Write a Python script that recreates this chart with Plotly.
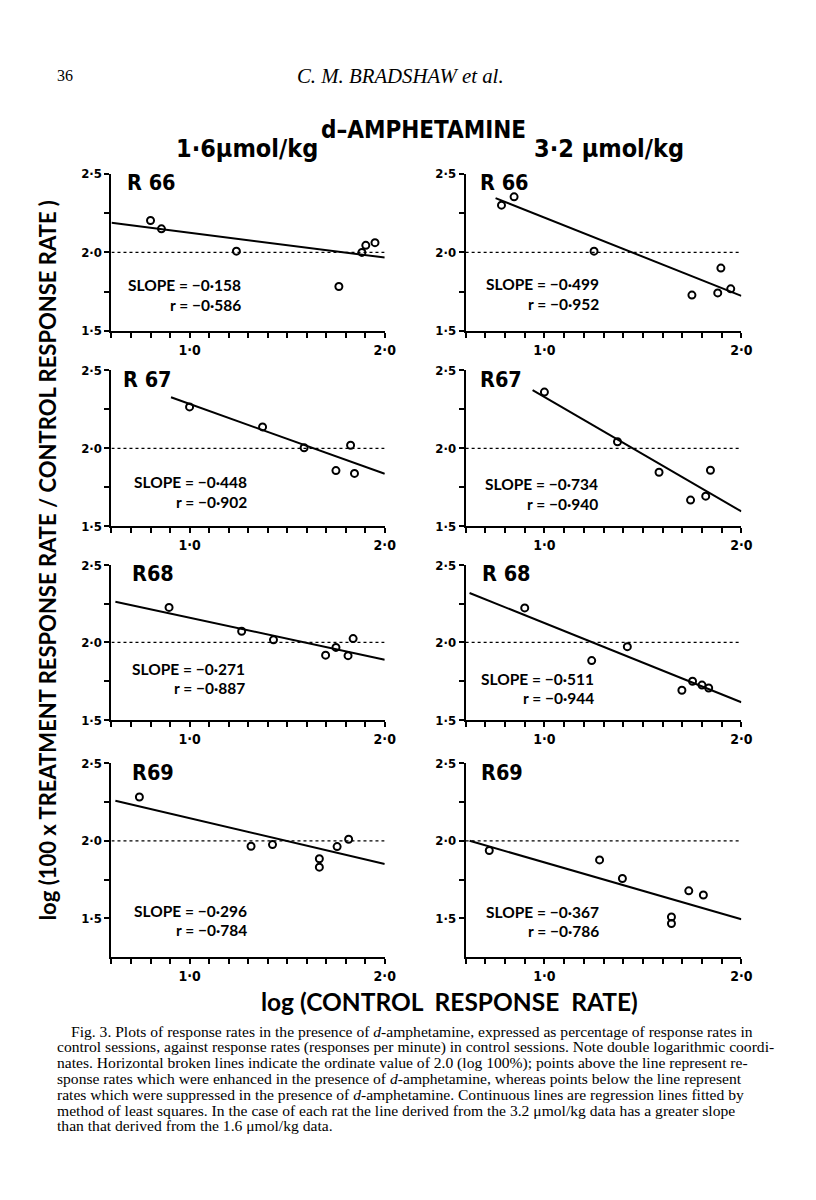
import plotly.graph_objects as go

# ---------------- data ----------------
rats = ["R 66", "R 67", "R68", "R69"]
rats_right = ["R 66", "R67", "R 68", "R69"]

# 1.6 umol/kg (left column)
L_x = [
    [0.80, 0.856, 1.24, 1.765, 1.883, 1.903, 1.95],
    [1.00, 1.374, 1.587, 1.75, 1.825, 1.845],
    [0.895, 1.267, 1.43, 1.697, 1.75, 1.812, 1.838],
    [0.743, 1.315, 1.425, 1.665, 1.665, 1.756, 1.815],
]
L_y = [
    [2.203, 2.15, 2.008, 1.783, 2.0, 2.045, 2.062],
    [2.266, 2.138, 2.004, 1.858, 2.02, 1.84],
    [2.226, 2.072, 2.017, 1.918, 1.968, 1.915, 2.025],
    [2.283, 1.965, 1.976, 1.884, 1.83, 1.963, 2.01],
]
L_slope = [-0.158, -0.448, -0.271, -0.296]
L_r = [-0.586, -0.902, -0.887, -0.784]
L_y_at1 = [2.125, 2.285, 2.16, 2.147]      # regression line value at x = 1.0
L_line_x0 = [0.60, 0.905, 0.62, 0.62]

# 3.2 umol/kg (right column)
R_x = [
    [0.782, 0.846, 1.252, 1.749, 1.880, 1.896, 1.946],
    [1.00, 1.371, 1.582, 1.742, 1.819, 1.843],
    [0.90, 1.24, 1.421, 1.698, 1.752, 1.80, 1.834],
    [0.72, 1.28, 1.396, 1.733, 1.807, 1.645, 1.645],
]
R_y = [
    [2.301, 2.354, 2.008, 1.728, 1.742, 1.90, 1.768],
    [2.361, 2.043, 1.847, 1.669, 1.694, 1.86],
    [2.223, 1.883, 1.973, 1.692, 1.75, 1.725, 1.706],
    [1.938, 1.877, 1.757, 1.677, 1.65, 1.508, 1.466],
]
R_slope = [-0.499, -0.734, -0.511, -0.367]
R_r = [-0.952, -0.940, -0.944, -0.786]
R_y_at1 = [2.222, 2.33, 2.125, 1.861]
R_line_x0 = [0.752, 0.94, 0.62, 0.62]

REF_LEVEL = 2.0
X_MIN, X_MAX = 0.6, 2.0
y_ranges = [[1.5, 2.5], [1.5, 2.5], [1.5, 2.5], [1.25, 2.5]]
x_tickvals = [0.6, 0.7, 0.8, 0.9, 1.0, 1.1, 1.2, 1.3, 1.4, 1.5, 1.6, 1.7, 1.8, 1.9, 2.0]
x_ticktext = ["", "", "", "", "1·0", "", "", "", "", "", "", "", "", "", "2·0"]
y_tickvals = [1.5, 1.75, 2.0, 2.25, 2.5]
y_ticktext = ["1·5", "", "2·0", "", "2·5"]

caption = [
    "Fig. 3. Plots of response rates in the presence of <i>d</i>-amphetamine, expressed as percentage of response rates in",
    "control sessions, against response rates (responses per minute) in control sessions. Note double logarithmic coordi-",
    "nates. Horizontal broken lines indicate the ordinate value of 2.0 (log 100%); points above the line represent re-",
    "sponse rates which were enhanced in the presence of <i>d</i>-amphetamine, whereas points below the line represent",
    "rates which were suppressed in the presence of <i>d</i>-amphetamine. Continuous lines are regression lines fitted by",
    "method of least squares. In the case of each rat the line derived from the 3.2 μmol/kg data has a greater slope",
    "than that derived from the 1.6 μmol/kg data.",
]

# ---------------- layout geometry (page pixels) ----------------
W, H = 816, 1200
col_px = [(113, 390), (472, 751.5)]
row_px = [(169, 328), (368, 526), (565, 722), (766, 962)]

HEAVY = "DejaVu Sans Condensed, Liberation Sans Narrow, Roboto, sans-serif"
GILL = "Lato, Open Sans, DejaVu Sans, sans-serif"
SERIF = "Liberation Serif, DejaVu Serif, serif"

fig = go.Figure()
layout = dict(
    width=W, height=H, margin=dict(l=0, r=0, t=0, b=0),
    paper_bgcolor="white", plot_bgcolor="white", showlegend=False,
)

def px2x(p):
    return p / W

def px2y(p):
    return 1 - p / H

annotations = []
axis_n = 0
for row in range(4):
    for col in range(2):
        axis_n += 1
        xa = "xaxis" if axis_n == 1 else f"xaxis{axis_n}"
        ya = "yaxis" if axis_n == 1 else f"yaxis{axis_n}"
        xr = "x" if axis_n == 1 else f"x{axis_n}"
        yr = "y" if axis_n == 1 else f"y{axis_n}"
        c0, c1 = col_px[col]
        r0, r1 = row_px[row]
        layout[xa] = dict(
            domain=[px2x(c0), px2x(c1)], range=[X_MIN, X_MAX], anchor=yr,
            showline=True, linecolor="black", linewidth=2, showgrid=False, zeroline=False,
            ticks="outside", ticklen=5, tickwidth=1.5, tickcolor="black",
            tickvals=x_tickvals, ticktext=x_ticktext,
            tickfont=dict(family=HEAVY, size=14, color="black", weight="bold"),
            fixedrange=True,
        )
        layout[ya] = dict(
            domain=[px2y(r1), px2y(r0)], range=y_ranges[row], anchor=xr,
            showline=True, linecolor="black", linewidth=2, showgrid=False, zeroline=False,
            ticks="outside", ticklen=5, tickwidth=1.5, tickcolor="black",
            tickvals=y_tickvals, ticktext=y_ticktext,
            tickfont=dict(family=HEAVY, size=13, color="black", weight="bold"),
            fixedrange=True,
        )
        if col == 0:
            xs, ys = L_x[row], L_y[row]
            slope, rr, yat1, lx0 = L_slope[row], L_r[row], L_y_at1[row], L_line_x0[row]
            label = rats[row]
        else:
            xs, ys = R_x[row], R_y[row]
            slope, rr, yat1, lx0 = R_slope[row], R_r[row], R_y_at1[row], R_line_x0[row]
            label = rats_right[row]

        # dotted reference line at log 100% = 2.0
        fig.add_trace(go.Scatter(
            x=[X_MIN, X_MAX], y=[REF_LEVEL, REF_LEVEL], mode="lines",
            line=dict(color="black", width=1.3, dash="dot"),
            xaxis=xr, yaxis=yr, hoverinfo="skip"))
        # regression line
        lx = [lx0, X_MAX]
        ly = [yat1 + slope * (v - 1.0) for v in lx]
        fig.add_trace(go.Scatter(
            x=lx, y=ly, mode="lines", line=dict(color="black", width=2),
            xaxis=xr, yaxis=yr, hoverinfo="skip"))
        # data points
        fig.add_trace(go.Scatter(
            x=xs, y=ys, mode="markers",
            marker=dict(symbol="circle-open", size=7, color="black",
                        line=dict(color="black", width=2)),
            xaxis=xr, yaxis=yr))

        # panel label
        lab_x = [[127, 485], [123, 485], [132, 487], [132, 486]][row][col]
        annotations.append(dict(
            x=px2x(lab_x), y=px2y(r0 + 9), xref="paper", yref="paper",
            xanchor="left", yanchor="middle", showarrow=False,
            text=f"<b>{label}</b>",
            font=dict(family=HEAVY, size=21.5, color="black")))
        # slope / r text
        right_px = [[246, 609], [252, 608], [250, 604], [252, 609]][row][col]
        sl_y = [282, 481, 670, 915][row] if col == 0 else [281, 483, 680, 916][row]
        annotations.append(dict(
            x=px2x(right_px), y=px2y(sl_y), xref="paper", yref="paper",
            xanchor="right", yanchor="middle", showarrow=False,
            text=f"<b>SLOPE = −{abs(slope):.3f}</b>".replace(".", "·"),
            font=dict(family=GILL, size=15.5, color="black")))
        annotations.append(dict(
            x=px2x(right_px), y=px2y(sl_y + 20), xref="paper", yref="paper",
            xanchor="right", yanchor="middle", showarrow=False,
            text=f"<b>r = −{abs(rr):.3f}</b>".replace(".", "·"),
            font=dict(family=GILL, size=15.5, color="black")))

# page header
annotations.append(dict(x=px2x(56), y=px2y(69), xref="paper", yref="paper",
                        xanchor="left", yanchor="middle", showarrow=False,
                        text="36", font=dict(family=SERIF, size=16, color="black")))
annotations.append(dict(x=px2x(406), y=px2y(69), xref="paper", yref="paper",
                        xanchor="center", yanchor="middle", showarrow=False,
                        text="<i>C. M. BRADSHAW et al.</i>",
                        font=dict(family=SERIF, size=20.8, color="black")))
# headings
annotations.append(dict(x=px2x(429), y=px2y(125), xref="paper", yref="paper",
                        xanchor="center", yanchor="middle", showarrow=False,
                        text="<b>d–AMPHETAMINE</b>",
                        font=dict(family=HEAVY, size=24, color="black")))
annotations.append(dict(x=px2x(250), y=px2y(143), xref="paper", yref="paper",
                        xanchor="center", yanchor="middle", showarrow=False,
                        text="<b>1·6μmol/kg</b>",
                        font=dict(family=HEAVY, size=25, color="black")))
annotations.append(dict(x=px2x(617), y=px2y(143), xref="paper", yref="paper",
                        xanchor="center", yanchor="middle", showarrow=False,
                        text="<b>3·2 μmol/kg</b>",
                        font=dict(family=HEAVY, size=25, color="black")))
# axis titles
annotations.append(dict(x=px2x(48), y=px2y(560), xref="paper", yref="paper",
                        xanchor="center", yanchor="middle", showarrow=False, textangle=-90,
                        text="<b>log (100 x TREATMENT RESPONSE RATE / CONTROL RESPONSE RATE )</b>",
                        font=dict(family=GILL, size=22, color="black")))
annotations.append(dict(x=px2x(456), y=px2y(1007), xref="paper", yref="paper",
                        xanchor="center", yanchor="middle", showarrow=False,
                        text="<b>log (CONTROL  RESPONSE  RATE)</b>",
                        font=dict(family=GILL, size=24.5, color="black")))
# caption
for i, line in enumerate(caption):
    annotations.append(dict(x=px2x(70 if i == 0 else 56), y=px2y(1037 + 16 * i),
                            xref="paper", yref="paper", xanchor="left", yanchor="middle",
                            showarrow=False, text=line,
                            font=dict(family=SERIF, size=15.6, color="black")))

layout["annotations"] = annotations
fig.update_layout(**layout)
fig.write_html("out.html", config={"displayModeBar": False},
               post_script="document.body.style.margin='0px';")
